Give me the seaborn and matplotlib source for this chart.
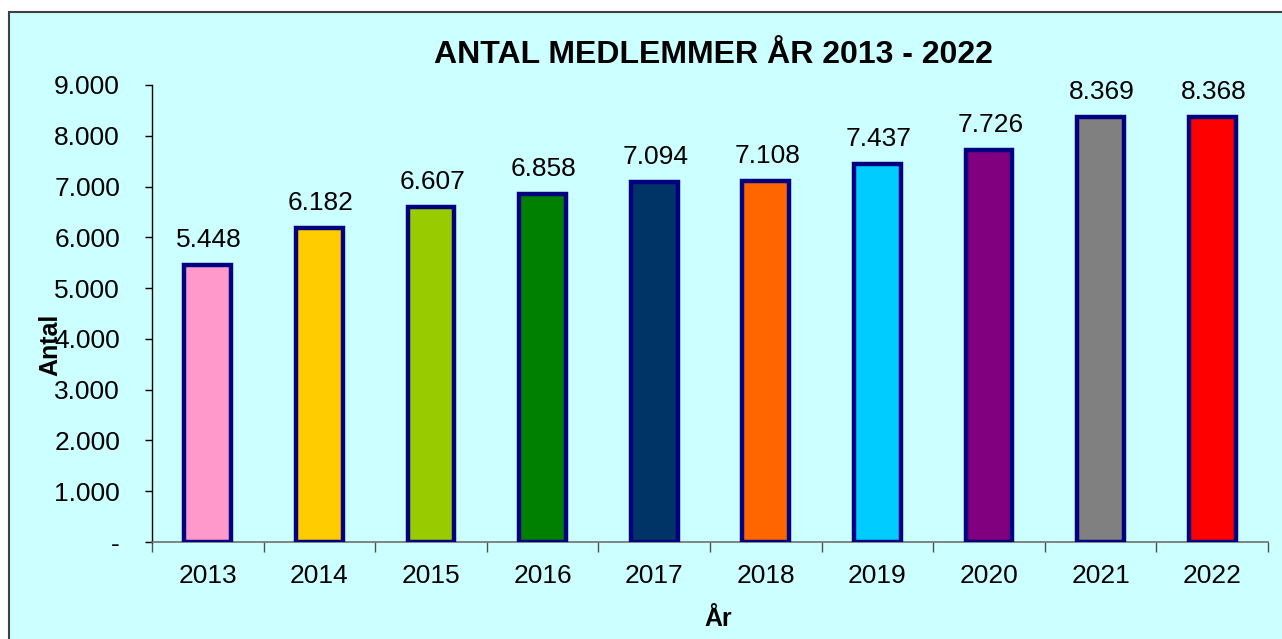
import matplotlib
matplotlib.use("Agg")
import matplotlib.pyplot as plt
import matplotlib.ticker as mticker
from matplotlib.patches import Rectangle
import seaborn as sns
import pandas as pd

# data
years = ["2013", "2014", "2015", "2016", "2017", "2018", "2019", "2020", "2021", "2022"]
members = [5448, 6182, 6607, 6858, 7094, 7108, 7437, 7726, 8369, 8368]
bar_colors = ["#FF99CC", "#FFCC00", "#99CC00", "#008000", "#003366",
              "#FF6600", "#00CCFF", "#800080", "#808080", "#FF0000"]

df = pd.DataFrame({"Year": years, "Antal": members})

sns.set_style("white")
plt.rcParams["font.family"] = ["Liberation Sans", "DejaVu Sans"]
plt.rcParams.update({"text.color": "black", "axes.labelcolor": "black",
                     "xtick.color": "black", "ytick.color": "black"})

bg = "#CCFFFF"
fig = plt.figure(figsize=(12.82, 6.39), dpi=100)
fig.patch.set_facecolor("white")

# chart area with border on top/left only visible (cropped)
fig.patches.append(Rectangle((9 / 1282, -0.05), 1.1, 1 - 12 / 639 + 0.05,
                             transform=fig.transFigure, facecolor=bg,
                             edgecolor="#404040", linewidth=1.5, zorder=-5))

ax = fig.add_axes([152 / 1282, 1 - 542 / 639, 1116 / 1282, 457 / 639])
ax.set_facecolor("none")
ax.set_zorder(2)

sns.barplot(data=df, x="Year", y="Antal", hue="Year", palette=bar_colors,
            saturation=1, legend=False, width=0.42, edgecolor="#000080",
            linewidth=3.2, ax=ax, zorder=3)

ax.set_xlim(-0.5, len(years) - 0.5)
ax.set_ylim(0, 9000)
ax.yaxis.set_major_locator(mticker.MultipleLocator(1000))


def fmt(v, pos):
    if v == 0:
        return "-"
    return f"{int(v):,}".replace(",", ".")


ax.yaxis.set_major_formatter(mticker.FuncFormatter(fmt))

for i, v in enumerate(members):
    ax.annotate(fmt(v, None), (i, v), xytext=(1, 18), textcoords="offset points",
                ha="center", va="center", fontsize=19)

# spines and ticks
for s in ["top", "right"]:
    ax.spines[s].set_visible(False)
ax.spines["left"].set_color("black")
ax.spines["left"].set_linewidth(1)
ax.spines["bottom"].set_color("#707070")
ax.spines["bottom"].set_linewidth(1.2)

ax.tick_params(axis="y", direction="out", length=5, width=1, color="black",
               pad=18, labelsize=19, left=True)
ax.tick_params(axis="x", which="major", length=0, pad=16, labelsize=19)
ax.xaxis.set_minor_locator(mticker.FixedLocator([i - 0.5 for i in range(len(years) + 1)]))
ax.tick_params(axis="x", which="minor", direction="out", length=7, width=1,
               color="#505050", bottom=True)

ax.set_ylabel("Antal", fontsize=18, fontweight="bold")
ax.yaxis.set_label_coords(-0.080, 0.431)
ax.set_xlabel("År", fontsize=18, fontweight="bold")
ax.xaxis.set_label_coords(0.507, -0.142)

fig.text(713 / 1282, 1 - 55 / 639, "ANTAL MEDLEMMER ÅR 2013 - 2022",
         ha="center", va="center", fontsize=23, fontweight="bold")

fig.savefig("out.png", dpi=100, facecolor=fig.get_facecolor())
